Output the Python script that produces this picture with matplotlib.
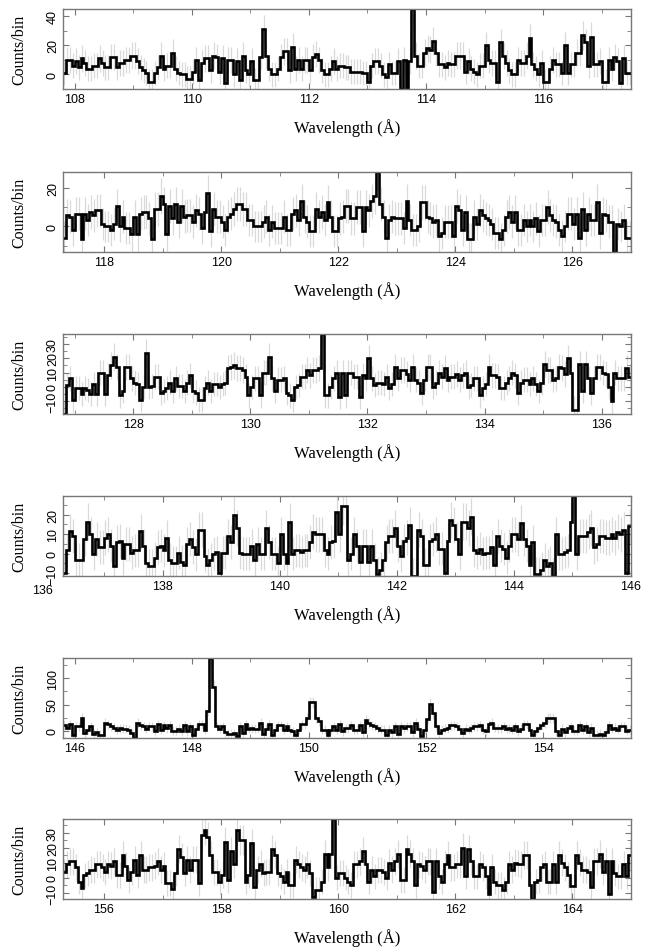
import numpy as np
import matplotlib.pyplot as plt
import matplotlib.transforms as mtransforms
from matplotlib.ticker import MultipleLocator

# wavelength of the first bin edge in each panel (Angstrom), bin width 0.05 A
starts = [107.8, 117.3, 126.8, 136.3, 145.8, 155.3]
bin_width = 0.05

counts_1 = [1, 10, 10, 6, 9, 5, 11, 8, 4, 4, 6, 6, 11, 8, 5, 5, 12, 12, 5, 8,
            8, 10, 10, 13, 13, 9, 5, 3, 1, -5, -5, 1, 5, 13, 4, 6, 6, 15, 4, 1,
            0, 0, -3, -3, 2, 10, -4, 8, 11, 11, 3, 13, 12, 2, 11, -6, 10, 10, 0, 9,
            -4, 13, 3, 0, 9, -4, -4, 12, 31, 13, 4, 0, 0, 4, 12, 16, 16, 3, 19, 4,
            10, 4, 10, 10, 3, 12, 14, 10, 3, 0, 0, 4, 9, 4, 6, 6, 5, 5,
            2, 2, 2, 2, 1, 1, -5, 6, 9, 9, 6, 0, -2, 7, 1, 1, 9, -10, 10, -10,
            9, 45, 13, 6, 6, 15, 18, 17, 23, 15, 7, 7, 5, 8, 7, 7, 13, 13, 13, 2,
            9, 4, 2, 0, 6, 6, 20, 10, 8, 8, -5, 22, 13, 8, 3, 0, 0, 10, 8, 8,
            13, 25, 7, 4, 0, 8, -5, -5, 4, 10, 7, 7, 1, 20, 1, 7, 7, 15, 15, 27,
            22, 6, 26, 7, 7, 9, -5, -5, 10, 4, 12, 9, -6, 11, 1, 1]

counts_2 = [-5.9, 5.9, 5, -1.7, 6.7, 6.7, -6.7, 6.7, 3.4, 7.6, 5.9, 8.4, 8.4, 1.3, 0, 0, -1.7, 1.3, 10.9, 0,
            5, -0.8, -0.8, -4.2, 5, -4.2, 6.7, 7.6, 7.6, 4.2, -6.7, 9.2, 9.2, 16, 11.8, -4.2, 10.9, 4.2, 11.8, 2.5,
            10.9, 5, 5.9, 5.9, 2.5, 8.4, 6.7, -0.8, 7.6, 17.6, -2.5, 9.2, 5, 5, 2.5, -1.7, 5, 6.7, 9.2, 11.8,
            11.8, 9.2, 9.2, 3.4, 3.4, 0, 0, 0, 2.5, 5, -1.7, 2.5, -0.8, -0.8, -0.8, 5, -1.7, -1.7, 6.7, 8.4,
            3.4, 13.4, 5, 2.5, -2.5, -2.5, 9.2, 5, 7.6, 3.4, 12.6, 5, -2.5, -2.5, 4.2, 5, 10.9, 10.9,
            4.2, 4.2, 10, 10, -2.5, 10, 8.4, 13.4, 16, 28.6, 11.8, 5, -5.9, 3.4, 5, 4.2, 4.2, 4.2, -0.8, 13.4,
            3.4, -1.7, -1.7, 0, 12.6, 12.6, 5, 4.2, 2.5, 3.4, -5, -3.4, 2.5, 2.5, 2.5, -5, 10.9, 8.4, -1.7, 7.6,
            -6.7, -6.7, 5, 1.3, 8.4, 5.9, 4.2, 3.4, 1.3, -3.4, -3.4, -6.7, -1.7, 5, 7.6, 2.5, 7.6, -1.7, -1.7, 3.4,
            0, 3.4, 0, 4.2, -2.5, 3.4, 3.4, 10, 5.9, 3.4, 2.5, -1.7, -5, 0, 6.7, 6.7, 1.3, 6.7, -5.9, 9.2,
            -1.7, 6.7, 3.4, 3.4, 13, -3.4, 6.7, 5.9, 2.5, 2.5, -13.4, 1.3, 0, 3.4, -5.9, -5.9]

counts_3 = [-19, 1, 6, -9, -1, -1, -5, -1, -2, -5, 2, -5, 10, 10, -5, 8, 15, 21, 14, -6,
            -3, 14, 14, 6, 3, 2, -9, 0, 24, 0, 0.5, 7, 7, -4, -3, -1, 3, -3, 6, 0.5,
            0.5, -3, 3, 8, -3, -4, -9, -9, -1, 3, -3, 2, 2, 0, 2, 3, 13, 14, 15, 13,
            13, 12, 7, -6, 0, 6, 6, -6, 10, 10, 21, 6, -3, 5, 5, 6, -4, -6, -9, 0,
            1, 7, 7, 12, 8, 12, 12, 13, 37, -6, -6, 0, 6, 10, -7, 10, -6, 10,
            10, 7, 7, -7, 8, 6, 20, 6, 1, 3, 3, 2, 7, -1, 2, 14, 6, 12, 12, 9,
            5, 14, 5, 3, -4, 5, 14, 14, 0, 3, 10, 7, 13, 5, 7, 7, 9, 5, 8, 10,
            0, 1, 6, 6, -6, -1, 2, 14, 8, 8, 7, -1, -1, 3, 6, 10, 8, -4, 3, 5,
            5, 2, 6, 2, -3, 3, 16, 12, 12, 5, 6, 14, 13, 9, 20, 10, -16, -16, 16, -3,
            16, 6, -4, 6, 14, 14, 10, 9, 0, -10, 10, 6, 6, 6, 13, 7]

counts_4 = [-9.8, 1.6, 11.5, 9, -3.3, -3.3, -3.3, 7.4, 16.4, 9.8, 0, 7.4, 3.3, 3.3, 8.2, 9.8, 4.1, -6.6, 5.7, 6.6,
            -2.5, 4.9, 4.9, 0.5, 1.6, 1.6, 11.5, 4.1, -4.9, -6.6, -6.6, -2.5, 3.3, 4.1, 1.6, 8.2, -3.3, -4.9, -4.9, 0.5,
            -4.1, -5.7, 4.9, 7.4, 3.3, -0.3, 12.3, 12.3, -1.2, -5.7, -3.3, 0, 0.8, -9.8, 0.5, 0.5, 9, 5.7, 19.7, 13.1,
            0.5, 0, 0, 0, 4.1, -3.3, 4.9, 0, 0, 13.1, 5.7, 0, 0, -4.9, 9.8, 0, -4.9, 16.4, 0, 1.6,
            1.6, 0.8, 1.6, 1.6, 5.7, 11.1, 9.8, 9.8, 9.8, 1.6, 0, 5.7, 6.6, 21.3, 9.8, 24.6, 24.6, -3.3,
            0, 9.8, 4.1, -4.1, 4.1, 4.1, -4.1, 4.1, -3.3, -10.7, -8.2, -3.3, 5.7, 9, 9, 13.1, 4.1, -1.2, 6.6, 8.2,
            14.8, -11.5, -11.5, 12.3, 9, -5.7, -5.7, 6.6, 7.4, 9.8, 2.5, 2.5, -9.8, 6.2, 17.2, 14.8, 7.4, 0, 16.4, 16.4,
            13.1, 18.9, 1.6, 0.5, 2.5, 0, 0.5, 0.5, 3.3, -5.7, 9, 4.1, 2.5, -2.1, 4.1, 9.8, 9.8, 7.4, 15.6, 7.4,
            4.1, -5.7, 5.7, -10.7, -10.7, -8.2, -3.3, -6.6, -4.9, -11.5, 9.8, 0, 0, 0.8, 1.6, 16.4, 29.5, 0, 9, 9,
            9, 11.1, 13.1, 3.3, 4.9, 9, 9, 8.2, 8.2, 9.8, 8.2, 11.1, 9.8, 12.3, -9.8, 13.9]

counts_5 = [10, 6, 12, -8, 8, 8, 25, -5, 2, 8, -6, -3, -8, -8, 15, 12, 8, 6, 2, 5,
            4, 4, 2, -5, -14, 15, 10, 8, 4, 8, 8, -1, 12, 2, 10, 5, 10, 0, 0, 4,
            -1, 10, -1, 8, -8, 4, 12, 12, 2, 38, 139, 84, 8, 4, 8, -3, -6, -6, -5, -11,
            8, -5, 12, 4, 5, 4, 4, 15, -6, 4, 12, -8, 2, 10, 10, 2, 8, 2, -1, -8,
            2, 12, 12, 25, 54, 54, 25, 18, 2, 2, -9, 2, 8, 2, 12, -1, 5, 5,
            10, 2, 2, 10, -3, 20, 15, 10, 8, 5, 2, 2, -8, 2, -3, 8, -6, 8, 5, 8,
            8, -3, 15, 4, -11, 2, 22, 51, 33, 8, -5, 2, 4, 5, 10, 10, 8, 4, -5, 4,
            2, 5, 8, 8, 10, 2, -1, 12, 15, 6, 5, 5, 8, 4, 5, 2, 8, -1, 4, 12,
            12, 2, -8, 0, 6, 10, 15, 25, 25, 25, -1, -8, 4, -3, 5, 8, 0, 0, 10, 2,
            8, -3, 6, -8, -8, -6, -9, -3, 10, 4, 6, 2, 8, 8, 0, 2]

counts_6 = [4, 9, 11, 11, 7, -2.5, -7, 1.6, 3, 5.5, 5, 9, 9, 7, 4, 9, 8, 11, 2, 2,
            15, 8, -1.4, 4, 12, 2, 15, 5.5, 5.5, 7, 7, 8, 11, 5.5, 8, -3.7, -3.7, -7.6, 3, 19,
            14, 3, 12, 5.5, 12, 12, -3.7, 28.5, 32, 27, 15, 4, 4, -2.5, 2, 24, -1.4, 18, 9, 32,
            25, 25, -2.5, 2, 23, -6, 5.5, 9.4, 3, 4, 4, 19, 15, 3, 1, -2.5, 4, -5, -5, 12,
            9, 7, 5.5, 9, 3, -13, -8, -8, -2.5, 16, 7, 16, 39, 0, 3, 3, 0, -2.5,
            -5, 9, 9, 11, 18, 9, -2.5, 5.5, 1, 5, 5, 4, 0, 10, 5.5, 11, 16, -1.4, -1.4, 19,
            16, 11, -5, 9, 8, 5.5, 11, 11, -9.4, 11, 1, -2.5, 9, 15, 7, 7, 9, 9, 20, 1,
            19, 11, 1, 1, 9, 7, 1, -10.6, 7, -2.5, -5, -5, -8, -2.5, 9, 5.5, 10, 9.4, 9, 15,
            15, -5, -14, -2.5, -1.4, 7, 9, -2.5, -2.5, 9, -2.5, 15, 10, 7, 2, -5.3, -5.3, 15, 10, 5.5,
            5.5, 4, -6, 11, 11, 16, 4, 11, -10.6, 11, 3, 1, 1, 9, 1, 15]

panels = [counts_1, counts_2, counts_3, counts_4, counts_5, counts_6]
y_major = [20, 20, 10, 10, 50, 10]

W, H = 652, 953
fig = plt.figure(figsize=(W / 100, H / 100), dpi=100)
tops = [10, 173, 335, 497, 659, 820]

for k, (top, start, counts, ymaj) in enumerate(zip(tops, starts, panels, y_major)):
    ax = fig.add_axes([63 / W, 1 - (top + 80) / H, 568 / W, 80 / H])
    c = np.array(counts, dtype=float)
    edges = start + bin_width * np.arange(len(c) + 1)
    mid = 0.5 * (edges[:-1] + edges[1:])
    err = np.sqrt(np.abs(c) + 70)  # poisson-like errors

    ax.vlines(mid, c - err, c + err, color="#d9d9d9", lw=0.9, zorder=1)
    ax.stairs(c, edges, baseline=None, color="black", lw=1.9, zorder=2)

    ax.set_xlim(edges[0], edges[-1])
    ax.set_ylim(c.min(), c.max())
    ax.xaxis.set_major_locator(MultipleLocator(2))
    ax.xaxis.set_minor_locator(MultipleLocator(1))
    ax.yaxis.set_major_locator(MultipleLocator(ymaj))
    ax.yaxis.set_minor_locator(MultipleLocator(ymaj / 2))
    ax.tick_params(which="both", direction="in", top=True, right=True,
                   color="#777777", labelsize=9, pad=3)
    ax.tick_params(which="major", length=4)
    ax.tick_params(which="minor", length=3)
    for lab in ax.get_xticklabels() + ax.get_yticklabels():
        lab.set_family("Liberation Sans")
    plt.setp(ax.get_yticklabels(), rotation=90, va="center")
    for sp in ax.spines.values():
        sp.set_color("#777777")
        sp.set_linewidth(1.0)
    ax.set_xlabel("Wavelength (Å)", family="Liberation Serif", fontsize=12, labelpad=9)
    ax.set_ylabel("Counts/bin", family="Liberation Serif", fontsize=11.5, labelpad=14)

    if k == 3:
        # the reference shows the 136 label just left of the frame
        trans = mtransforms.blended_transform_factory(ax.transData, ax.transAxes)
        ax.text(135.95, -0.1, "136", transform=trans, ha="center", va="top",
                fontsize=9, family="Liberation Sans", clip_on=False)

fig.savefig("out.png", dpi=100)
